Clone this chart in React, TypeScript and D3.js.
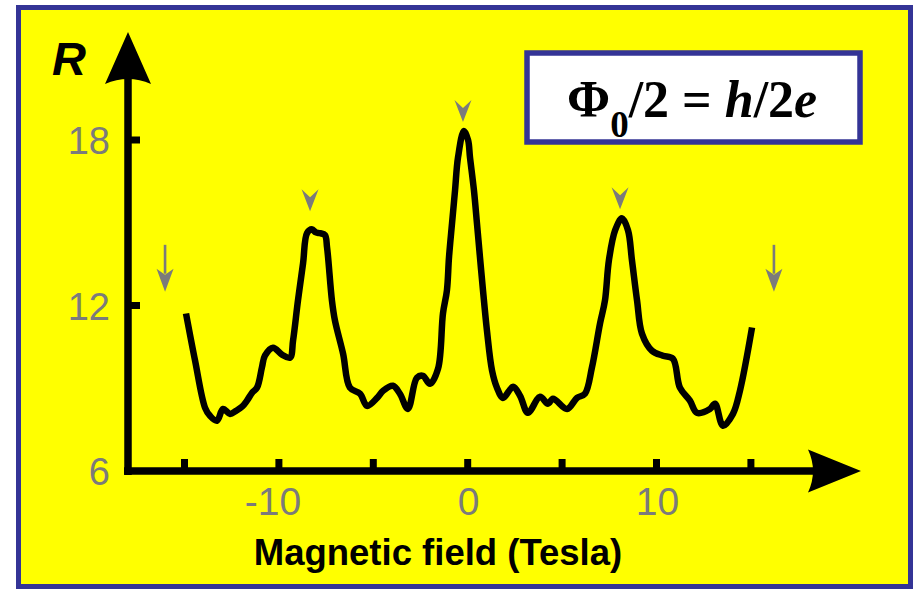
import * as d3 from 'd3';

// magnetoresistance trace
const FIELD = [
  -14.92, -14.44, -13.91, -13.65, -13.28, -12.96, -12.59, -12.27, -11.95, -11.69,
  -11.42, -11.16, -10.9, -10.74, -10.31, -9.84, -9.41, -9.25, -8.99, -8.72,
  -8.51, -8.25, -8.04, -7.82, -7.56, -7.45, -7.19, -7.03, -6.6, -6.24,
  -5.7, -5.33, -4.8, -4.48, -3.96, -3.59, -3.17, -2.69, -2.37, -2.0,
  -1.57, -1.31, -1.1, -0.99, -0.83, -0.67, -0.51, -0.2, 0.02, 0.12,
  0.33, 0.49, 0.65, 0.81, 1.02, 1.29, 1.55, 1.87, 2.4, 2.77,
  3.19, 3.83, 4.25, 4.52, 5.26, 5.79, 6.21, 6.58, 7.01, 7.27,
  7.48, 7.81, 8.17, 8.49, 8.7, 8.97, 9.23, 9.76, 10.34, 10.87,
  11.24, 11.77, 12.14, 12.83, 13.1, 13.52, 14.05, 14.42, 15.06,
];
const RESIST = [
  11.71, 10.0, 8.29, 8.0, 7.82, 8.25, 8.07, 8.18, 8.33, 8.55,
  8.84, 9.02, 9.75, 10.18, 10.47, 10.22, 10.11, 10.73, 12.18, 13.53,
  14.62, 14.76, 14.65, 14.62, 14.55, 14.11, 12.18, 11.45, 10.25, 9.02,
  8.8, 8.36, 8.65, 8.91, 9.09, 8.8, 8.25, 9.38, 9.45, 9.16,
  9.71, 11.71, 12.55, 13.75, 14.98, 16.18, 17.38, 18.33, 18.0, 17.38,
  16.18, 14.98, 13.75, 12.55, 11.09, 9.64, 9.02, 8.65, 9.05, 8.73,
  8.11, 8.69, 8.44, 8.62, 8.25, 8.65, 8.8, 9.75, 11.35, 12.18,
  13.64, 14.73, 15.16, 14.73, 13.64, 12.18, 10.98, 10.36, 10.18, 10.07,
  9.02, 8.55, 8.11, 8.25, 8.44, 7.64, 8.07, 8.91, 11.2,
];

const X_TICKS = [-15, -10, -5, 0, 5, 10, 15];
const X_LABELS = [-10, 0, 10];
const Y_TICKS = [18, 12];
const Y_LABELS = [18, 12, 6];

// grey chevrons over the peaks (field, tip resistance)
const PEAK_FIELD = [-8.35, -0.25, 8.07];
const PEAK_TIP = [15.42, 18.65, 15.49];
// grey down arrows at the ends
const EDGE_FIELD = [-16.03, 16.22];
const EDGE_TOP = 14.2;
const EDGE_TIP = 12.5;

const W = 918;
const H = 589;
const BLUE = '#343496';
const GREY = '#7b7b7b';
const SANS = '"Liberation Sans", Arial, sans-serif';
const SERIF = '"Liberation Serif", "Times New Roman", serif';

export default function App() {
  const x = d3.scaleLinear().domain([-15, 15]).range([184.5, 750.9]);
  const y = d3.scaleLinear().domain([6, 18]).range([471, 140]);

  const pts: [number, number][] = FIELD.map((b, i) => [b, RESIST[i]]);
  const line = d3
    .line<[number, number]>()
    .x((d) => x(d[0]))
    .y((d) => y(d[1]))
    .curve(d3.curveCatmullRom.alpha(0.5));

  const ax0 = 128; // y axis position
  const ay0 = y(6); // x axis position
  const xEnd = 861;
  const yEnd = 32;

  return (
    <div style={{ position: 'absolute', left: 0, top: 0 }}>
      <svg width={W} height={H} viewBox={`0 0 ${W} ${H}`} style={{ display: 'block' }}>
        <rect x={0} y={0} width={W} height={H} fill="#fff" />
        <rect x={18.5} y={7.5} width={892} height={579} fill="#ffff00" stroke={BLUE} strokeWidth={5} />

        {/* axes */}
        <line x1={ax0} x2={ax0} y1={ay0 + 4} y2={yEnd + 45} stroke="#000" strokeWidth={7.5} />
        <line x1={ax0 - 4} x2={xEnd - 45} y1={ay0} y2={ay0} stroke="#000" strokeWidth={7.5} />
        <path
          d={`M${ax0},${yEnd} L${ax0 + 23},${yEnd + 52} Q${ax0},${yEnd + 42} ${ax0 - 23},${yEnd + 52} Z`}
          fill="#000"
        />
        <path
          d={`M${xEnd},${ay0} L${xEnd - 53},${ay0 + 21.5} Q${xEnd - 43},${ay0} ${xEnd - 53},${ay0 - 21.5} Z`}
          fill="#000"
        />

        {X_TICKS.map((t) => (
          <line key={t} x1={x(t)} x2={x(t)} y1={ay0} y2={ay0 - 12} stroke="#000" strokeWidth={7} />
        ))}
        {Y_TICKS.map((t) => (
          <line key={t} x1={ax0} x2={ax0 + 12} y1={y(t)} y2={y(t)} stroke="#000" strokeWidth={7} />
        ))}

        {X_LABELS.map((t) => (
          <text
            key={t}
            x={x(t) + (t < 0 ? -6 : 1)}
            y={515}
            textAnchor="middle"
            fontFamily={SANS}
            fontSize={39}
            fill={GREY}
          >
            {t}
          </text>
        ))}
        {Y_LABELS.map((t) => (
          <text
            key={t}
            x={110}
            y={y(t) + 14}
            textAnchor="end"
            fontFamily={SANS}
            fontSize={38}
            fill={GREY}
          >
            {t}
          </text>
        ))}

        <text x={52} y={75} fontFamily={SANS} fontSize={47} fontWeight={700} fontStyle="italic" fill="#000">
          R
        </text>
        <text x={438} y={565} textAnchor="middle" fontFamily={SANS} fontSize={36.5} fontWeight={700} fill="#000">
          Magnetic field (Tesla)
        </text>

        {/* trace */}
        <path d={line(pts) ?? undefined} fill="none" stroke="#000" strokeWidth={6.5} strokeLinejoin="round" />

        {PEAK_FIELD.map((b, i) => {
          const cx = x(b);
          const ty = y(PEAK_TIP[i]);
          return (
            <path
              key={b}
              d={`M${cx},${ty} L${cx - 8.5},${ty - 22} L${cx},${ty - 14} L${cx + 8.5},${ty - 22} Z`}
              fill={GREY}
            />
          );
        })}
        {EDGE_FIELD.map((b) => {
          const cx = x(b);
          const top = y(EDGE_TOP);
          const tip = y(EDGE_TIP);
          return (
            <g key={b} fill={GREY}>
              <rect x={cx - 1.3} y={top} width={2.6} height={tip - top - 18} />
              <path d={`M${cx},${tip} L${cx - 8.5},${tip - 23} L${cx},${tip - 17} L${cx + 8.5},${tip - 23} Z`} />
            </g>
          );
        })}

        {/* flux quantum box */}
        <rect x={527} y={53} width={333} height={89} fill="#fff" stroke={BLUE} strokeWidth={5.5} />
        <text x={567} y={117} fontFamily={SERIF} fontSize={52} fontWeight={700} fill="#000">
          <tspan>Φ</tspan>
          <tspan fontSize={37} dy={20}>0</tspan>
          <tspan dy={-20}>/2 = </tspan>
          <tspan fontStyle="italic">h</tspan>
          <tspan>/2</tspan>
          <tspan fontStyle="italic">e</tspan>
        </text>
      </svg>
    </div>
  );
}
